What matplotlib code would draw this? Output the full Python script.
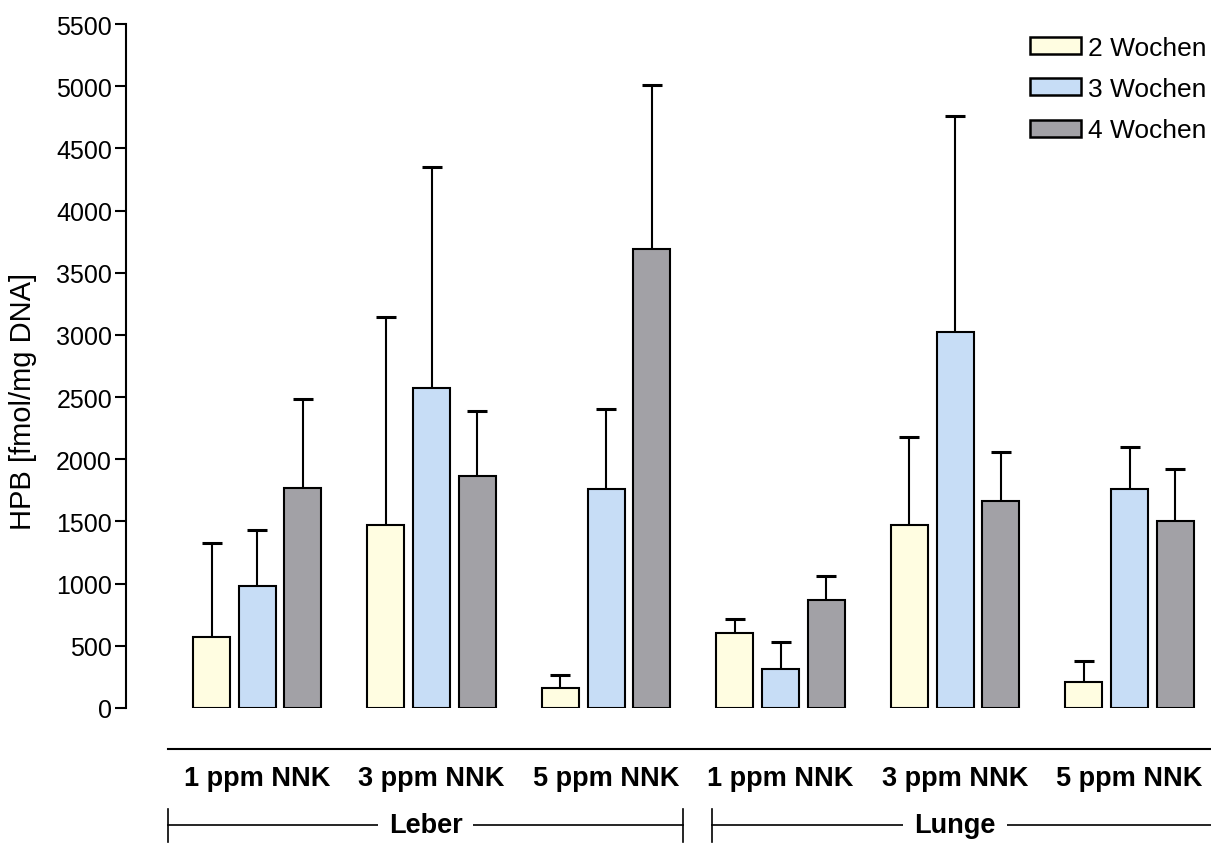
import matplotlib
matplotlib.use("Agg")
import matplotlib.pyplot as plt
import numpy as np
from matplotlib.patches import Patch
import matplotlib.transforms as mtransforms

plt.rcParams['font.family'] = ['Liberation Sans', 'DejaVu Sans']

categories = ["1 ppm NNK", "3 ppm NNK", "5 ppm NNK", "1 ppm NNK", "3 ppm NNK", "5 ppm NNK"]
organs = ["Leber", "Lunge"]
series_names = ["2 Wochen", "3 Wochen", "4 Wochen"]

w2_mean = [573, 1472, 160, 607, 1470, 206]
w2_sd = [754, 1674, 102, 106, 712, 171]
w3_mean = [979, 2570, 1757, 311, 3024, 1758]
w3_sd = [455, 1784, 646, 216, 1736, 338]
w4_mean = [1769, 1866, 3687, 869, 1666, 1505]
w4_sd = [716, 522, 1323, 191, 390, 414]

yticks = [0, 500, 1000, 1500, 2000, 2500, 3000, 3500, 4000, 4500, 5000, 5500]

colors = ["#FFFDE1", "#C7DDF6", "#A2A1A6"]

W, H = 1211, 845
fig = plt.figure(figsize=(W / 100, H / 100), dpi=100)
ax = fig.add_axes([126 / W, 1 - 709 / H, 1 - 126 / W, (709 - 25) / H])

x = np.arange(len(categories))
pitch = 0.261
width = 0.212
means = [w2_mean, w3_mean, w4_mean]
sds = [w2_sd, w3_sd, w4_sd]
for i, (m, s) in enumerate(zip(means, sds)):
    xi = x + (i - 1) * pitch
    ax.bar(xi, m, width=width, color=colors[i], edgecolor="black", linewidth=1.5, zorder=3)
    eb = ax.errorbar(xi, m, yerr=[np.zeros(len(m)), s], fmt="none", ecolor="black",
                     elinewidth=1.5, capsize=7.5, capthick=2.2, zorder=2)
    eb[1][0].set_visible(False)

ax.set_xlim(-0.751, 5.467)
ax.set_ylim(0, 5500)
ax.set_yticks(yticks)
ax.set_yticklabels([str(t) for t in yticks], fontsize=18)
ax.tick_params(axis="y", length=8, width=1.5, pad=2)
ax.set_xticks([])
for sp in ["top", "right", "bottom"]:
    ax.spines[sp].set_visible(False)
ax.spines["left"].set_linewidth(1.5)
ax.set_ylabel("HPB [fmol/mg DNA]", fontsize=21)
ax.yaxis.set_label_coords(-0.082, 0.449)

# legend
handles = [Patch(facecolor=c, edgecolor="black", linewidth=1.8) for c in colors]
fig.legend(handles, series_names, loc="upper right", bbox_to_anchor=(1 - 2 / W, 1 - 34 / H),
           frameon=False, fontsize=19, handlelength=1.95, handleheight=0.62,
           handletextpad=0.25, labelspacing=0.66, borderaxespad=0.0, borderpad=0.1)

# category annotations below axis
trans = mtransforms.blended_transform_factory(ax.transData, fig.transFigure)
def fy(py):
    return 1 - py / H

ax.plot([-0.51, 5.467], [fy(750), fy(750)], transform=trans, color="black", lw=1.5, clip_on=False)
for xi, c in zip(x, categories):
    ax.text(xi, fy(779), c, transform=trans, ha="center", va="center", fontsize=19.5,
            fontweight="bold", clip_on=False)

brackets = [(-0.51, 2.441), (2.607, 5.467)]
for (x0, x1), name in zip(brackets, organs):
    yb = fy(826)
    ax.plot([x0, x1], [yb, yb], transform=trans, color="black", lw=1.2, clip_on=False, zorder=1)
    ax.plot([x0, x0], [fy(810), fy(843)], transform=trans, color="black", lw=1.2, clip_on=False)
    if x1 < 5.4:
        ax.plot([x1, x1], [fy(810), fy(843)], transform=trans, color="black", lw=1.2, clip_on=False)
    ax.text((x0 + x1) / 2 if x1 < 5.4 else 4.0, yb, name, transform=trans, ha="center", va="center",
            fontsize=19.5, fontweight="bold", clip_on=False, zorder=5,
            bbox=dict(facecolor="white", edgecolor="none", pad=8))

fig.savefig("out.png", dpi=100)
